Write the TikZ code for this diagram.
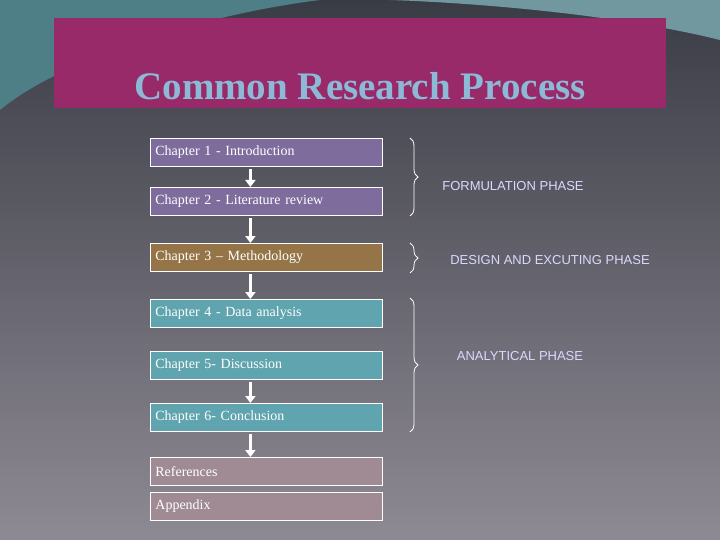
\documentclass[tikz,border=0pt]{standalone}
\usepackage{fontspec}
\setmainfont{Liberation Serif}
\newfontfamily\phasefont{Liberation Sans}
\usetikzlibrary{positioning,decorations.pathreplacing,arrows.meta}
\definecolor{bgtop}{HTML}{3A3C45}
\definecolor{bgbot}{HTML}{8E8A94}
\definecolor{titlebg}{HTML}{982A6A}
\definecolor{titlefg}{HTML}{8CBAD6}
\definecolor{formcol}{HTML}{7E6C9C}
\definecolor{designcol}{HTML}{957548}
\definecolor{analycol}{HTML}{5FA4AE}
\definecolor{backcol}{HTML}{A08A94}
\definecolor{swoosh}{HTML}{4E7E86}
\tikzset{>={Triangle[width=10pt,length=7pt]}}
\tikzset{
  chapbox/.style={draw=white,thick,minimum width=232pt,minimum height=28pt,
    text width=222pt,align=left,text=white,font=\fontsize{14}{16}\selectfont},
  steparrow/.style={->,white,line width=2.5pt,shorten <=2pt},
  phasebrace/.style={decorate,decoration={brace,amplitude=8pt},white,thick},
  phaselabel/.style={text=white!85!blue,font=\phasefont\fontsize{13}{15}\selectfont}
}
\begin{document}
\begin{tikzpicture}[x=1pt,y=-1pt]
  \useasboundingbox (0,0) rectangle (720,540);
  \shade[top color=bgtop,bottom color=bgbot] (0,0) rectangle (720,540);
  % swooshes
  \fill[swoosh] (0,0) -- (320,0) .. controls (200,15) and (60,60) .. (0,110) -- cycle;
  \fill[swoosh!80!white] (390,0) -- (720,0) -- (720,40) .. controls (620,15) and (480,3) .. (390,0) -- cycle;
  % title
  \node[fill=titlebg,minimum width=612pt,minimum height=90pt,anchor=north west] (title) at (54,18) {};
  \node[text=titlefg,font=\bfseries\fontsize{39}{42}\selectfont] (titletext) at (360,86) {Common Research Process};
  % chapters
  \node[chapbox,fill=formcol,anchor=north west] (c1) at (150,138) {Chapter 1 - Introduction};
  \node[chapbox,fill=formcol,anchor=north west] (c2) at (150,187) {Chapter 2 - Literature review};
  \node[chapbox,fill=designcol,anchor=north west] (c3) at (150,243) {Chapter 3 -- Methodology};
  \node[chapbox,fill=analycol,anchor=north west] (c4) at (150,299) {Chapter 4 - Data analysis};
  \node[chapbox,fill=analycol,anchor=north west] (c5) at (150,351) {Chapter 5- Discussion};
  \node[chapbox,fill=analycol,anchor=north west] (c6) at (150,403) {Chapter 6- Conclusion};
  \node[chapbox,fill=backcol,anchor=north west] (refs) at (150,457) {References};
  \node[chapbox,fill=backcol,anchor=north west] (app) at (150,492) {Appendix};
  \foreach \a/\b in {c1/c2,c2/c3,c3/c4,c5/c6,c6/refs}
    \draw[steparrow] ([xshift=-16pt]\a.south) -- ([xshift=-16pt]\b.north);
  % phases
  \draw[phasebrace] (410,138) -- (410,216);
  \draw[phasebrace] (410,243) -- (410,273);
  \draw[phasebrace] (410,298) -- (410,432);
  \node[phaselabel] (form) at (513,186) {FORMULATION PHASE};
  \node[phaselabel] (design) at (550,260) {DESIGN AND EXCUTING  PHASE};
  \node[phaselabel] (analy) at (520,356) {ANALYTICAL PHASE};
\end{tikzpicture}
\end{document}
